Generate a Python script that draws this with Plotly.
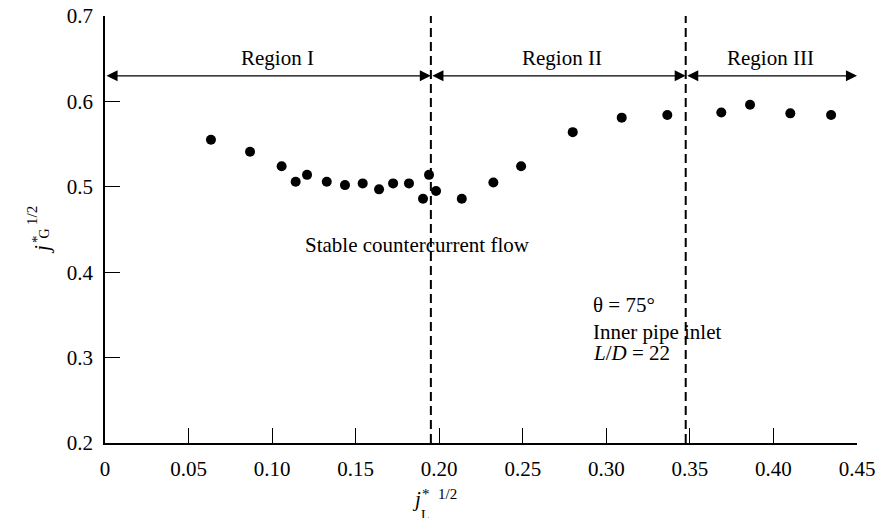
import plotly.graph_objects as go

# Data
jl = [0.0634, 0.0868, 0.1057, 0.1141, 0.1209, 0.1327, 0.1436, 0.1542, 0.1640, 0.1724,
      0.1819, 0.1903, 0.1939, 0.1981, 0.2135, 0.2324, 0.2490, 0.2799, 0.3092, 0.3365,
      0.3688, 0.3860, 0.4101, 0.4345]
jg = [0.555, 0.541, 0.524, 0.506, 0.514, 0.506, 0.502, 0.504, 0.497, 0.504,
      0.504, 0.486, 0.514, 0.495, 0.486, 0.505, 0.524, 0.564, 0.581, 0.584,
      0.587, 0.596, 0.586, 0.584]

boundaries = [0.195, 0.3475]
region_labels = ["Region I", "Region II", "Region III"]
region_spans = [(0.0, 0.195), (0.195, 0.3475), (0.3475, 0.45)]
region_label_x = [0.103, 0.2735, 0.398]
arrow_y = 0.63
label_y = 0.651

info_lines = ["θ = 75°", "Inner pipe inlet", "<i>L</i>/<i>D</i> = 22"]
info_y = [0.3616, 0.330, 0.3054]

x_ticks = [0, 0.05, 0.10, 0.15, 0.20, 0.25, 0.30, 0.35, 0.40, 0.45]
x_ticktext = ["0", "0.05", "0.10", "0.15", "0.20", "0.25", "0.30", "0.35", "0.40", "0.45"]
y_ticks = [0.2, 0.3, 0.4, 0.5, 0.6, 0.7]
y_ticktext = ["0.2", "0.3", "0.4", "0.5", "0.6", "0.7"]

FONT = "Liberation Serif"
FS = 21
W, H = 878, 518
ML, MT = 105, 16
PW, PH = 752, 427
MR, MB = W - ML - PW, H - MT - PH

def px(xp):                  # page pixel -> paper x
    return (xp - ML) / PW

def py(yp):                  # page pixel -> paper y
    return (MT + PH - yp) / PH

def tf(size):
    return dict(family=FONT, size=size, color="black")

fig = go.Figure()
fig.add_trace(go.Scatter(x=jl, y=jg, mode="markers",
                         marker=dict(color="black", size=10),
                         showlegend=False, cliponaxis=False))

shapes = []
for b in boundaries:
    shapes.append(dict(type="line", xref="x", yref="y", x0=b, x1=b, y0=0.2, y1=0.7,
                       line=dict(color="black", width=2, dash="9px,5px")))

annotations = []
for (a, b), lab, lx in zip(region_spans, region_labels, region_label_x):
    annotations.append(dict(x=b, y=arrow_y, ax=a, ay=arrow_y, xref="x", yref="y",
                            axref="x", ayref="y", text="", showarrow=True,
                            arrowhead=2, startarrowhead=2, arrowside="end+start",
                            arrowsize=1.7, startarrowsize=1.7, arrowwidth=1.3,
                            arrowcolor="black"))
    annotations.append(dict(x=lx, y=label_y, xref="x", yref="y", text=lab,
                            showarrow=False, font=tf(FS)))

annotations.append(dict(x=0.187, y=0.432, xref="x", yref="y",
                        text="Stable countercurrent flow", showarrow=False, font=tf(FS)))
for t, yy in zip(info_lines, info_y):
    annotations.append(dict(x=0.291, y=yy, xref="x", yref="y", xanchor="left",
                            text=t, showarrow=False, font=tf(FS)))

# x-axis title: j*_L^{1/2} built from pieces
annotations += [
    dict(x=px(416), y=py(513), xref="paper", yref="paper", text="<i>j</i>",
         showarrow=False, font=tf(21)),
    dict(x=px(426), y=py(504), xref="paper", yref="paper", text="*",
         showarrow=False, font=tf(15)),
    dict(x=px(447), y=py(504), xref="paper", yref="paper", text="1/2",
         showarrow=False, font=tf(15)),
    dict(x=px(425), y=py(525), xref="paper", yref="paper", text="L",
         showarrow=False, font=tf(14)),
]
# y-axis title: j*_G^{1/2} (rotated)
annotations += [
    dict(x=px(28), y=py(250), xref="paper", yref="paper", text="<i>j</i>",
         showarrow=False, textangle=-90, font=tf(21)),
    dict(x=px(27), y=py(239), xref="paper", yref="paper", text="*",
         showarrow=False, textangle=-90, font=tf(15)),
    dict(x=px(34), y=py(234), xref="paper", yref="paper", text="G",
         showarrow=False, textangle=-90, font=tf(14)),
    dict(x=px(22), y=py(216), xref="paper", yref="paper", text="1/2",
         showarrow=False, textangle=-90, font=tf(15)),
]

axis_common = dict(ticks="inside", ticklen=15, tickwidth=1.3, tickcolor="black",
                   showline=True, linecolor="black", linewidth=1.6,
                   showgrid=False, zeroline=False, ticklabelstandoff=6,
                   ticklabeloverflow="allow",
                   automargin=False, tickfont=tf(FS))

fig.update_layout(
    width=W, height=H,
    margin=dict(l=ML, r=MR, t=MT, b=MB, autoexpand=False),
    paper_bgcolor="white", plot_bgcolor="white",
    shapes=shapes, annotations=annotations,
    font=tf(FS),
    xaxis=dict(range=[0, 0.45], tickvals=x_ticks, ticktext=x_ticktext, **axis_common),
    yaxis=dict(range=[0.2, 0.7], tickvals=y_ticks, ticktext=y_ticktext, **axis_common),
)

fig.write_html("out.html", config={"displayModeBar": False},
               post_script="document.body.style.margin='0';"
                           "document.body.style.overflow='hidden';")
